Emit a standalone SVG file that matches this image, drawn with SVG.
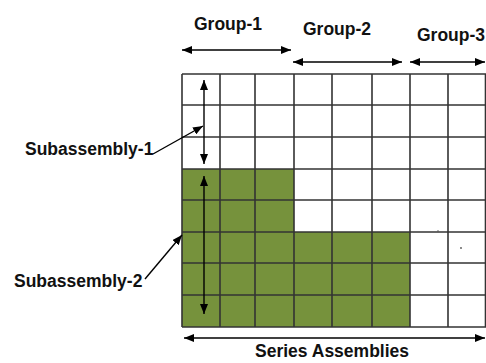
<svg xmlns="http://www.w3.org/2000/svg" width="486" height="363" viewBox="0 0 486 363">
<style>
text{font-family:"Liberation Sans",Arial,sans-serif;font-weight:bold;font-size:17.5px;fill:#111}
.grid line{stroke:#333;stroke-width:1.6}
.green{fill:#76923C}
.arr{stroke:#000;stroke-width:1.4;fill:none}
</style>
<defs>
<marker id="ah" viewBox="0 0 10 8" refX="10" refY="4" markerWidth="10" markerHeight="8" markerUnits="userSpaceOnUse" orient="auto-start-reverse">
<path d="M0,0 L10,4 L0,8 z" fill="#000"/>
</marker>
</defs>
<rect width="486" height="363" fill="#fff"/>
<g id="grid">
<rect class="green" x="182" y="169" width="112" height="158"/>
<rect class="green" x="294" y="232" width="116" height="95"/>
<g class="grid">
<line x1="182" y1="74" x2="182" y2="327"/>
<line x1="220" y1="74" x2="220" y2="327"/>
<line x1="255" y1="74" x2="255" y2="327"/>
<line x1="294" y1="74" x2="294" y2="327"/>
<line x1="332" y1="74" x2="332" y2="327"/>
<line x1="372" y1="74" x2="372" y2="327"/>
<line x1="410" y1="74" x2="410" y2="327"/>
<line x1="448" y1="74" x2="448" y2="327"/>
<line x1="485.5" y1="74" x2="485.5" y2="327"/>
<line x1="182" y1="74" x2="486" y2="74"/>
<line x1="182" y1="105" x2="486" y2="105"/>
<line x1="182" y1="137" x2="486" y2="137"/>
<line x1="182" y1="169" x2="486" y2="169"/>
<line x1="182" y1="200" x2="486" y2="200"/>
<line x1="182" y1="232" x2="486" y2="232"/>
<line x1="182" y1="263" x2="486" y2="263"/>
<line x1="182" y1="295" x2="486" y2="295"/>
<line x1="182" y1="327" x2="486" y2="327"/>
</g>
<circle cx="438" cy="231" r="0.8" fill="#555"/>
<circle cx="461" cy="248" r="0.9" fill="#555"/>
</g>
<g id="group-1"><text x="228" y="30" text-anchor="middle">Group-1</text></g>
<g id="group-2"><text x="337" y="35" text-anchor="middle">Group-2</text></g>
<g id="group-3"><text x="417" y="41">Group-3</text></g>
<g id="subassembly-1"><text x="25" y="155">Subassembly-1</text></g>
<g id="subassembly-2"><text x="14" y="287">Subassembly-2</text></g>
<g id="series"><text x="332" y="357" text-anchor="middle">Series Assemblies</text></g>
<g id="connectors">
<line class="arr" x1="182" y1="50" x2="291" y2="50" marker-start="url(#ah)" marker-end="url(#ah)"/>
<line class="arr" x1="293" y1="62" x2="402" y2="62" marker-start="url(#ah)" marker-end="url(#ah)"/>
<line class="arr" x1="410" y1="62" x2="485" y2="62" marker-start="url(#ah)" marker-end="url(#ah)"/>
<line class="arr" x1="204" y1="80" x2="204" y2="164" marker-start="url(#ah)" marker-end="url(#ah)"/>
<line class="arr" x1="204" y1="176" x2="204" y2="314" marker-start="url(#ah)" marker-end="url(#ah)"/>
<line class="arr" x1="153" y1="154" x2="203" y2="126" marker-end="url(#ah)"/>
<line class="arr" x1="145" y1="279" x2="182" y2="235" stroke-width="1.1" marker-end="url(#ah)"/>
<line class="arr" x1="184" y1="338" x2="485" y2="338" marker-start="url(#ah)" marker-end="url(#ah)"/>
</g>
</svg>
